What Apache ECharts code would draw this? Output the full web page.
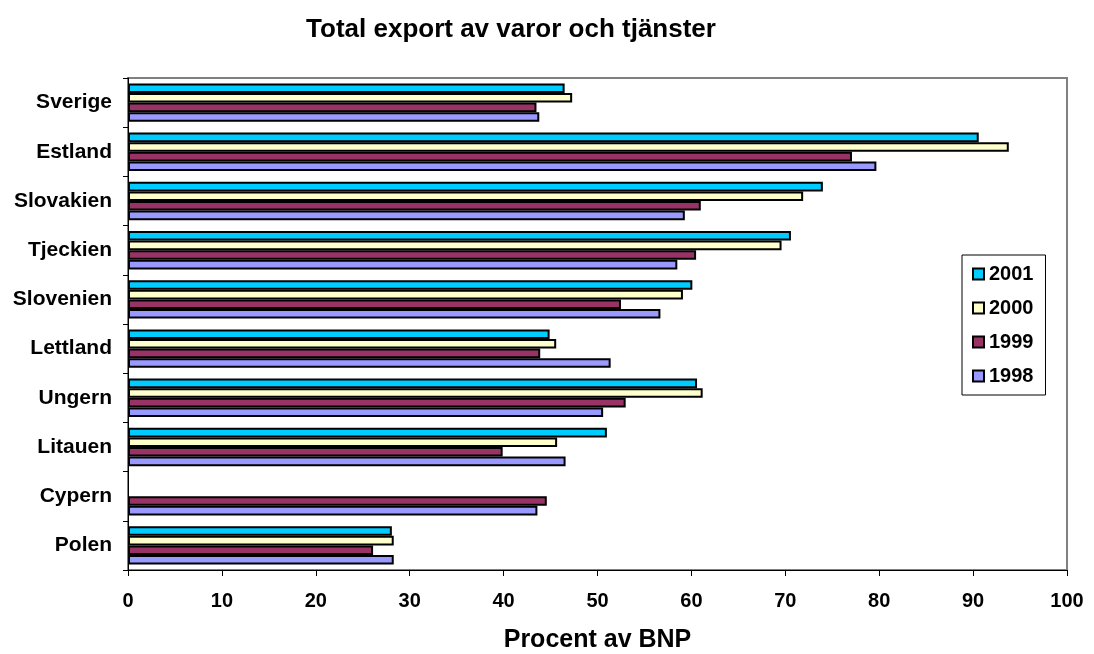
<!DOCTYPE html>
<html>
<head>
<meta charset="utf-8">
<title>Total export av varor och tjänster</title>
<script src="https://cdn.jsdelivr.net/npm/echarts@6/dist/echarts.min.js"></script>
<style>
  html, body { margin: 0; padding: 0; background: #fff; }
  #chart { width: 1094px; height: 654px; }
</style>
</head>
<body>
<div id="chart"></div>
<script>
// categories, top to bottom
const countries = ['Sverige', 'Estland', 'Slovakien', 'Tjeckien', 'Slovenien', 'Lettland', 'Ungern', 'Litauen', 'Cypern', 'Polen']
const years = ['2001', '2000', '1999', '1998']

// percent of GDP
const values2001 = [46.5, 90.6, 74.0, 70.6, 60.1, 44.9, 60.6, 51.0, null, 28.1]
const values2000 = [47.3, 93.8, 71.9, 69.6, 59.1, 45.6, 61.2, 45.7, null, 28.3]
const values1999 = [43.5, 77.1, 61.0, 60.5, 52.5, 43.9, 53.0, 39.9, 44.6, 26.1]
const values1998 = [43.8, 79.7, 59.3, 58.5, 56.7, 51.4, 50.6, 46.6, 43.6, 28.3]

const xTicks = [0, 10, 20, 30, 40, 50, 60, 70, 80, 90, 100]

const colors = ['#00ccff', '#ffffcc', '#993366', '#9999ff']
const seriesData = [values2001, values2000, values1999, values1998]

const font = 'Arial, "Liberation Sans", sans-serif'

const chart = echarts.init(document.getElementById('chart'), null, { renderer: 'canvas' })

let series = []
for (let i = 0; i < years.length; i++) {
  series.push({
    name: years[i],
    type: 'bar',
    data: seriesData[i],
    barGap: '0%',
    barCategoryGap: '22%',
    itemStyle: {
      color: colors[i],
      borderColor: '#000',
      borderWidth: 2
    },
    animation: false
  })
}

chart.setOption({
  backgroundColor: '#fff',
  title: {
    text: 'Total export av varor och tjänster',
    left: 506,
    top: 12,
    textAlign: 'center',
    textStyle: {
      fontFamily: font,
      fontWeight: 'bold',
      fontSize: 26,
      color: '#000'
    }
  },
  legend: {
    data: years,
    orient: 'vertical',
    left: 962,
    top: 255,
    itemWidth: 11,
    itemHeight: 11,
    itemGap: 14,
    padding: [9, 12, 9, 10],
    backgroundColor: '#fff',
    borderColor: '#000',
    borderWidth: 1,
    icon: 'rect',
    itemStyle: {
      borderColor: '#000',
      borderWidth: 2
    },
    textStyle: {
      fontFamily: font,
      fontWeight: 'bold',
      fontSize: 20,
      lineHeight: 20,
      color: '#000'
    }
  },
  grid: {
    left: 128,
    right: 27,
    top: 78,
    bottom: 84,
    outerBoundsMode: 'none',
    show: true,
    borderColor: '#808080',
    borderWidth: 2,
    backgroundColor: '#fff'
  },
  xAxis: {
    type: 'value',
    min: xTicks[0],
    max: xTicks[xTicks.length - 1],
    interval: 10,
    name: 'Procent av BNP',
    nameLocation: 'middle',
    nameGap: 58,
    nameTextStyle: {
      fontFamily: font,
      fontWeight: 'bold',
      fontSize: 25,
      color: '#000'
    },
    axisLine: { show: true, lineStyle: { color: '#000', width: 1 } },
    axisTick: { show: true, length: 6, lineStyle: { color: '#000' } },
    splitLine: { show: false },
    axisLabel: {
      margin: 21,
      fontFamily: font,
      fontWeight: 'bold',
      fontSize: 20,
      color: '#000'
    }
  },
  yAxis: {
    type: 'category',
    data: countries,
    inverse: true,
    axisLine: { show: true, lineStyle: { color: '#000', width: 1 } },
    axisTick: { show: true, length: 5, lineStyle: { color: '#000' } },
    axisLabel: {
      margin: 16,
      fontFamily: font,
      fontWeight: 'bold',
      fontSize: 21,
      color: '#000'
    }
  },
  series: series
})
</script>
</body>
</html>
